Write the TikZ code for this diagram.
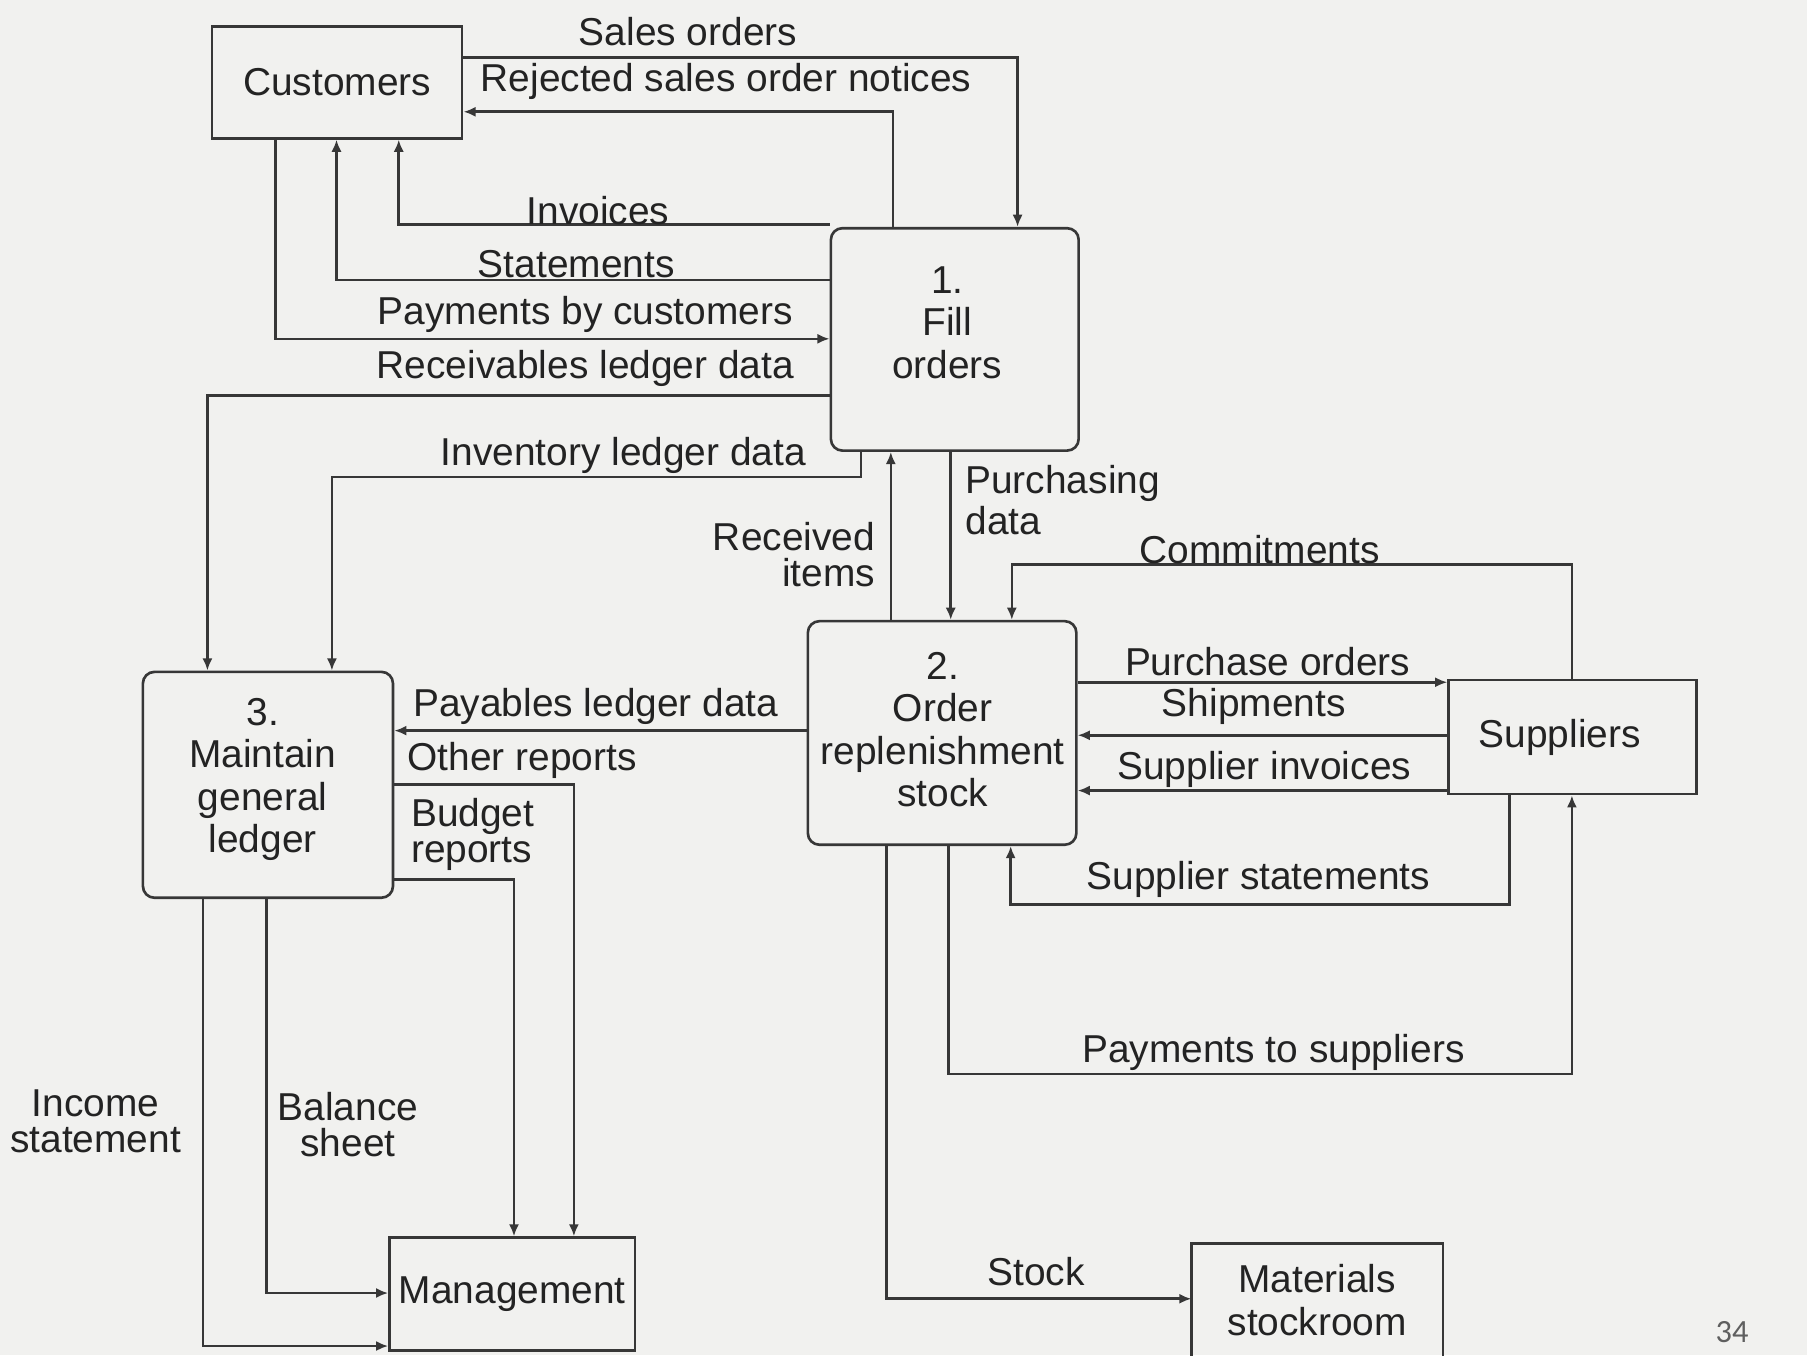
\documentclass[tikz,border=0pt]{standalone}
\usepackage{fontspec}
\setmainfont{Liberation Sans}
\newfontfamily\numpagina{Carlito}
\usepackage{xcolor}
\usetikzlibrary{arrows.meta}
\definecolor{Papel}{RGB}{241, 241, 239}
\definecolor{Tinta}{RGB}{35, 35, 35}
\definecolor{Trazo}{RGB}{55, 55, 55}
\definecolor{Gris}{RGB}{95, 95, 95}
\tikzset{
  caja/.style={draw=Trazo, line width=0.65pt, inner sep=0pt, text=Tinta, font=\fontsize{9.6}{10.5}\selectfont},
  proceso/.style={caja, rounded corners=1mm},
  texto/.style={inner sep=0pt, text=Tinta, font=\fontsize{9.6}{8.8}\selectfont},
  textoproc/.style={texto, align=center, font=\fontsize{9.6}{10.5}\selectfont},
  flujo/.style={draw=Trazo, line width=0.65pt, -{Latex[length=3pt,width=2.5pt]}},
  linea/.style={draw=Trazo, line width=0.65pt}
}

\begin{document}
\begin{tikzpicture}[x=0.1mm, y=-0.1mm]
	% Fondo de la hoja
	\fill[Papel] (0,0) rectangle (1568,1176);
	\useasboundingbox (0,0) rectangle (1568,1176);

	% Entidades externas
	\node[caja, minimum width=21.7mm, minimum height=9.7mm] (cli) at (292.5,71.5) {Customers};
	\node[caja, minimum width=21.5mm, minimum height=9.9mm] (prov) at (1364.5,639.5) {\hspace*{-2.2mm}Suppliers};
	\node[caja, minimum width=21.3mm, minimum height=9.8mm] (dir) at (444.5,1123) {Management};
	\node[caja, draw=none, align=center, minimum width=21.6mm, minimum height=9.6mm] (alm) at (1143,1128) {Materials\\stockroom};
	\draw[linea] (alm.south west) -- (alm.north west) -- (alm.north east) -- (alm.south east);

	% Procesos
	\node[proceso, minimum width=21.5mm, minimum height=19.3mm] (p1) at (828.5,294.5) {};
	\node[proceso, minimum width=23.3mm, minimum height=19.4mm] (p2) at (817.5,636) {};
	\node[proceso, minimum width=21.7mm, minimum height=19.6mm] (p3) at (232.5,681) {};
	\node[textoproc] (p1txt) at (822,280) {1.\\Fill\\orders};
	\node[textoproc] (p2txt) at (818,633) {2.\\Order\\replenishment\\stock};
	\node[textoproc] (p3txt) at (228,676.5) {3.\\Maintain\\general\\ledger};

	% Flujos entre clientes y proceso 1
	\draw[flujo] (cli.east |- 0,50) -| (p1.north -| 883,0);
	\draw[flujo] (p1.north -| 775,0) |- (cli.east |- 0,97);
	\draw[flujo] (p1.west |- 0,195) -| (cli.south -| 346,0);
	\draw[flujo] (p1.west |- 0,243) -| (cli.south -| 292,0);
	\draw[flujo] (cli.south -| 239,0) |- (p1.west |- 0,294);
	\draw[flujo] (p1.west |- 0,343) -| (p3.north -| 180,0);
	\draw[flujo] (p1.south -| 747,0) -- (747,414) -| (p3.north -| 288,0);
	\draw[flujo] (p2.north -| 773,0) -- (p1.south -| 773,0);
	\draw[flujo] (p1.south -| 825,0) -- (p2.north -| 825,0);

	% Flujos con proveedores y almacen
	\draw[flujo] (prov.north -| 1364,0) -- (1364,490) -| (p2.north -| 878,0);
	\draw[flujo] (p2.east |- 0,592) -- (prov.west |- 0,592);
	\draw[flujo] (prov.west |- 0,638) -- (p2.east |- 0,638);
	\draw[flujo] (prov.west |- 0,686) -- (p2.east |- 0,686);
	\draw[flujo] (prov.south -| 1310,0) -- (1310,785) -| (p2.south -| 877,0);
	\draw[flujo] (p2.south -| 823,0) -- (823,932) -| (prov.south -| 1364,0);
	\draw[flujo] (p2.south -| 769,0) |- (alm.west |- 0,1127);

	% Flujos del libro mayor
	\draw[flujo] (p2.west |- 0,634) -- (p3.east |- 0,634);
	\draw[flujo] (p3.east |- 0,681) -| (dir.north -| 498,0);
	\draw[flujo] (p3.east |- 0,763) -| (dir.north -| 446,0);
	\draw[flujo] (p3.south -| 176,0) |- (dir.west |- 0,1168);
	\draw[flujo] (p3.south -| 231,0) |- (dir.west |- 0,1122);

	% Etiquetas de los flujos
	\node[texto] (ventas) at (597,27) {Sales orders};
	\node[texto] (rechazos) at (630,71) {Rejected sales order notices};
	\node[texto] (facturas) at (519,183) {Invoices};
	\node[texto] (extractos) at (500,229) {Statements};
	\node[texto] (cobros) at (508,273) {Payments by customers};
	\node[texto] (cxc) at (508,320) {Receivables ledger data};
	\node[texto] (inventario) at (541,395) {Inventory ledger data};
	\node[texto, anchor=east, align=right] (recibidos) at (760,481) {Received\\items};
	\node[texto, anchor=west, align=left] (compras) at (837,434) {Purchasing\\data};
	\node[texto] (compromisos) at (1093,477) {Commitments};
	\node[texto] (pedidos) at (1100,574) {Purchase orders};
	\node[texto] (envios) at (1088,613) {Shipments};
	\node[texto] (factprov) at (1097,668) {Supplier invoices};
	\node[texto] (extprov) at (1092,763) {Supplier statements};
	\node[texto] (pagos) at (1105,913) {Payments to suppliers};
	\node[texto] (existencias) at (899,1103) {Stock};
	\node[texto] (cxp) at (517,613) {Payables ledger data};
	\node[texto] (otros) at (453,660) {Other reports};
	\node[texto, anchor=west, align=left] (presupuesto) at (356,724) {Budget\\reports};
	\node[texto, align=center] (resultados) at (83,973) {Income\\statement};
	\node[texto, align=center] (balance) at (302,976) {Balance\\sheet};

	% Numero de pagina
	\node[inner sep=0pt, text=Gris, font=\numpagina\fontsize{8}{9}\selectfont] (pagina) at (1503,1156) {34};
\end{tikzpicture}
\end{document}
